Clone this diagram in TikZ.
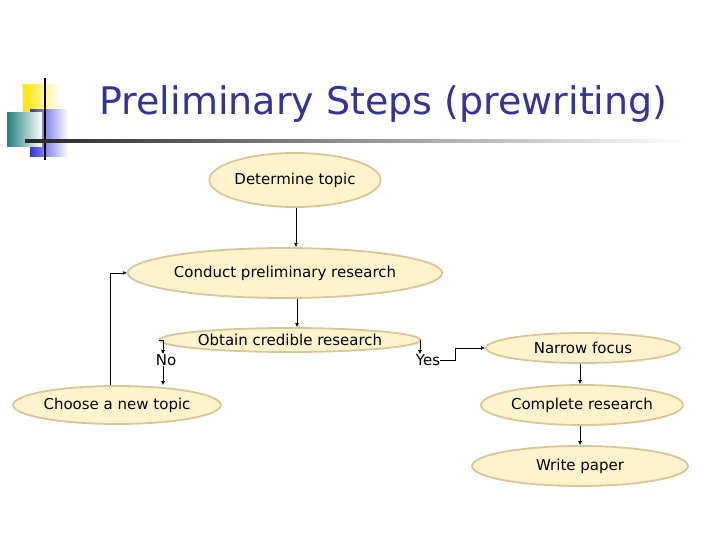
\documentclass[tikz,border=0pt]{standalone}
\usepackage{fontspec}
\setmainfont{DejaVu Sans}
\usetikzlibrary{arrows.meta,shapes.geometric}
\definecolor{ovalfill}{HTML}{FFF3CC}
\definecolor{ovaldraw}{HTML}{D6C698}
\definecolor{titleblue}{HTML}{333399}
\tikzset{
  phase/.style={ellipse, fill=ovalfill, draw=ovaldraw, line width=1.8pt, inner sep=0pt, font=\fontsize{15}{17}\selectfont},
  link/.style={-{Latex[length=4pt,width=4pt]}, line width=1pt},
  lbl/.style={inner sep=0pt, font=\fontsize{15}{17}\selectfont}
}
\begin{document}
\begin{tikzpicture}[x=1pt,y=-1pt]
  \useasboundingbox (0,0) rectangle (720,540);
  % logo
  \shade[left color=yellow!80!orange, right color=white] (23,85) rectangle (60,118);
  \shade[left color=blue!80!black!80, right color=white] (30,110) rectangle (68,157);
  \shade[left color=teal!70!gray, right color=white] (7,113) rectangle (42,147);
  \draw[line width=1.5pt] (45,78) -- (45,160);
  \shade[left color=black!85, middle color=black!50, right color=white] (25,140) rectangle (690,143);
  \node[text=titleblue, font=\fontsize{38}{42}\selectfont, anchor=west] (title) at (96,104) {Preliminary Steps (prewriting)};

  \node[phase, minimum width=164pt, minimum height=54pt] (topic) at (295,180) {Determine topic};
  \node[phase, minimum width=294pt, minimum height=50pt] (conduct) at (285,273) {Conduct preliminary research};
  \node[phase, minimum width=230pt, minimum height=24pt] (obtain) at (290,340) {Obtain credible research};
  \node[phase, minimum width=196pt, minimum height=38pt] (choose) at (117,405) {Choose a new topic};
  \node[phase, minimum width=194pt, minimum height=30pt] (narrow) at (583,348) {Narrow focus};
  \node[phase, minimum width=202pt, minimum height=40pt] (complete) at (582,405) {Complete research};
  \node[phase, minimum width=216pt, minimum height=40pt] (write) at (580,466) {Write paper};

  \node[lbl] (no) at (166,360) {No};
  \node[lbl] (yes) at (428,360) {Yes};
  \coordinate (loop) at (110,273);

  \draw[link] ([xshift=1pt]topic.south) -- ([xshift=1pt]topic.south |- conduct.north);
  \draw[link] ([xshift=12pt]conduct.south) -- ([xshift=7pt]obtain.north);
  \draw[link] (obtain.west) -| ([xshift=-3pt]no.north);
  \draw[link] ([xshift=-3pt]no.south) -- ([xshift=-3pt]no.south |- choose.north);
  \draw[link] (choose.north -| loop) -- (loop) -- (conduct.west);
  \draw[link] (obtain.east) -| ([xshift=-8pt]yes.north);
  \draw[link] (yes.east) -- ++(15,0) |- (narrow.west);
  \draw[link] (narrow.south -| 580,0) -- (complete.north -| 580,0);
  \draw[link] (complete.south -| 580,0) -- (write.north -| 580,0);
\end{tikzpicture}
\end{document}
